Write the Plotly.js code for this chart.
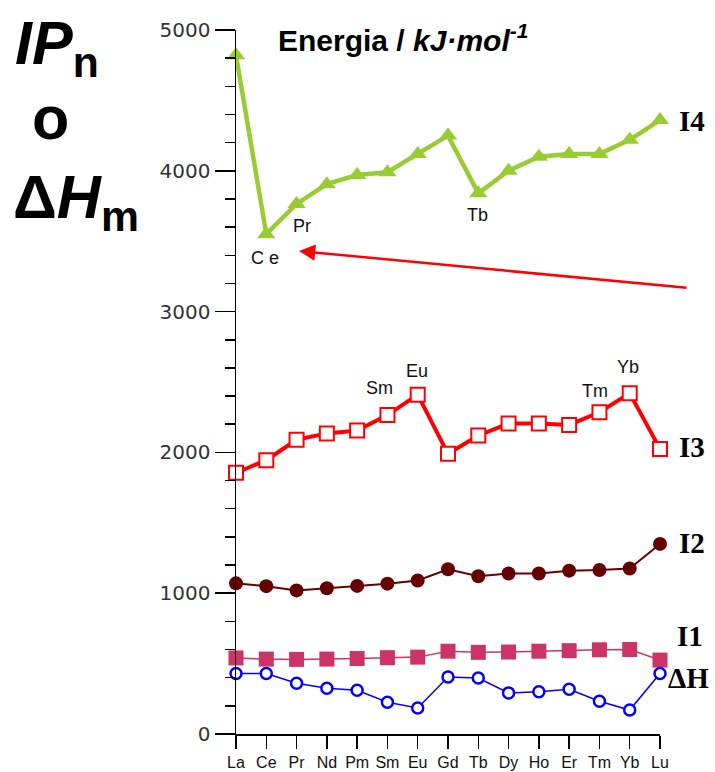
<!DOCTYPE html>
<html>
<head>
<meta charset="utf-8">
<script src="https://cdn.plot.ly/plotly-3.0.1.min.js"></script>
<style>html,body{margin:0;padding:0;background:#fff;}#chart{width:715px;height:772px;}</style>
</head>
<body>
<div id="chart"></div>
<script>
// Lanthanide series (category ticks)
var elements = ["La","Ce","Pr","Nd","Pm","Sm","Eu","Gd","Tb","Dy","Ho","Er","Tm","Yb","Lu"];
var tickLabels = ["La","Ce","Pr","Nd","Pm","Sm","Eu","Gd","Tb","Dy","Ho","Er","Tm","Yb","Lu"];
// Energies, kJ/mol
var I4 = [4820, 3550, 3765, 3905, 3970, 3990, 4120, 4250, 3840, 4000, 4100, 4120, 4120, 4220, 4360];
var I3 = [1855, 1945, 2090, 2135, 2155, 2265, 2410, 1990, 2120, 2205, 2205, 2195, 2285, 2420, 2025];
var I2 = [1070, 1050, 1020, 1035, 1052, 1068, 1090, 1170, 1120, 1140, 1140, 1160, 1165, 1175, 1350];
var I1 = [540, 532, 530, 532, 536, 542, 546, 588, 580, 582, 588, 592, 598, 600, 525];
var dH = [430, 430, 360, 325, 310, 225, 185, 405, 398, 292, 300, 318, 233, 170, 430];

var seriesNames = ["I4","I3","I2","I1","ΔH"];

var traces = [
  {x: elements, y: I4, name: seriesNames[0], mode: "lines+markers", cliponaxis: false,
   line: {color: "#99CC33", width: 4.5},
   marker: {symbol: "triangle-up", size: 16, color: "#99CC33"}},
  {x: elements, y: I3, name: seriesNames[1], mode: "lines+markers", cliponaxis: false,
   line: {color: "#FF0000", width: 4},
   marker: {symbol: "square", size: 14, color: "#FFFFFF", line: {color: "#FF0000", width: 2}}},
  {x: elements, y: I2, name: seriesNames[2], mode: "lines+markers", cliponaxis: false,
   line: {color: "#660000", width: 2},
   marker: {symbol: "circle", size: 14, color: "#660000"}},
  {x: elements, y: I1, name: seriesNames[3], mode: "lines+markers", cliponaxis: false,
   line: {color: "#CC3366", width: 1.5},
   marker: {symbol: "square", size: 15, color: "#CC3366"}},
  {x: elements, y: dH, name: seriesNames[4], mode: "lines+markers", cliponaxis: false,
   line: {color: "#0000FF", width: 1.5},
   marker: {symbol: "circle", size: 11, color: "#FFFFFF", line: {color: "#0000FF", width: 2.5}}}
];

var L = 236, T = 30, W = 424, H = 704;
function px(x){ return (x - L) / W; }
function py(y){ return (T + H - y) / H; }

var elFont = {family: "Liberation Sans, Arial, sans-serif", size: 18, color: "#111"};
var serFont = {family: "Liberation Serif, Times New Roman, serif", size: 29, color: "#000"};

function txt(text, x, y, font, xa, ya){
  return {text: text, xref: "paper", yref: "paper", x: px(x), y: py(y), showarrow: false,
          xanchor: xa || "center", yanchor: ya || "middle", font: font};
}

var annotations = [
  txt("C e", 265, 258, elFont),
  txt("Pr", 302, 226, elFont),
  txt("Tb", 477, 215, elFont),
  txt("Sm", 379, 388, elFont),
  txt("Eu", 417, 371, elFont),
  txt("Tm", 595, 391, elFont),
  txt("Yb", 628, 367, elFont),
  txt("<b>I4</b>", 677, 121, serFont, "left"),
  txt("<b>I3</b>", 677, 447, serFont, "left"),
  txt("<b>I2</b>", 677, 543, serFont, "left"),
  txt("<b>I1</b>", 675, 636, serFont, "left"),
  txt("<b>ΔH</b>", 666, 678, serFont, "left"),
  // title
  txt("<b>Energia / <i>kJ·mol</i><sup><i>-1</i></sup></b>", 276, 38,
      {family: "Liberation Sans, Arial, sans-serif", size: 30, color: "#000"}, "left"),
  // left quantity label
  txt("<b><i>IP</i></b><b><sub>n</sub></b>", 13, 48,
      {family: "Liberation Sans, Arial, sans-serif", size: 61, color: "#000"}, "left"),
  txt("<b>o</b>", 50, 118,
      {family: "Liberation Sans, Arial, sans-serif", size: 61, color: "#000"}, "center"),
  txt("<b>Δ<i>H</i></b><b><sub>m</sub></b>", 11, 202,
      {family: "Liberation Sans, Arial, sans-serif", size: 61, color: "#000"}, "left"),
  // red arrow
  {xref: "paper", yref: "paper", x: px(299), y: py(251), ax: 389, ay: 37, axref: "pixel", ayref: "pixel",
   showarrow: true, arrowhead: 2, arrowsize: 1.3, arrowwidth: 2.5, arrowcolor: "#FF0000", text: ""}
];

var layout = {
  width: 715, height: 772,
  margin: {l: L, r: 715 - L - W, t: T, b: 772 - T - H, pad: 0},
  paper_bgcolor: "#FFFFFF", plot_bgcolor: "#FFFFFF",
  showlegend: false,
  xaxis: {
    type: "category", range: [0, elements.length - 1],
    tickvals: elements, ticktext: tickLabels,
    showgrid: false, zeroline: false, showline: true, linecolor: "#000", linewidth: 1.5,
    ticks: "outside", ticklen: 13, tickwidth: 1.5, tickcolor: "#000",
    tickfont: {family: "Liberation Sans, Arial, sans-serif", size: 16, color: "#111"}
  },
  yaxis: {
    range: [0, 5000], dtick: 1000, tick0: 0,
    showgrid: false, zeroline: false, showline: true, linecolor: "#000", linewidth: 1.5,
    ticks: "outside", ticklen: 20, tickwidth: 1.5, tickcolor: "#000",
    minor: {dtick: 200, ticks: "outside", ticklen: 10, tickwidth: 1.5, tickcolor: "#000", showgrid: false},
    tickfont: {family: "DejaVu Sans, sans-serif", size: 20, color: "#333"}
  },
  annotations: annotations
};

Plotly.newPlot("chart", traces, layout, {displayModeBar: false, staticPlot: true});
</script>
</body>
</html>
